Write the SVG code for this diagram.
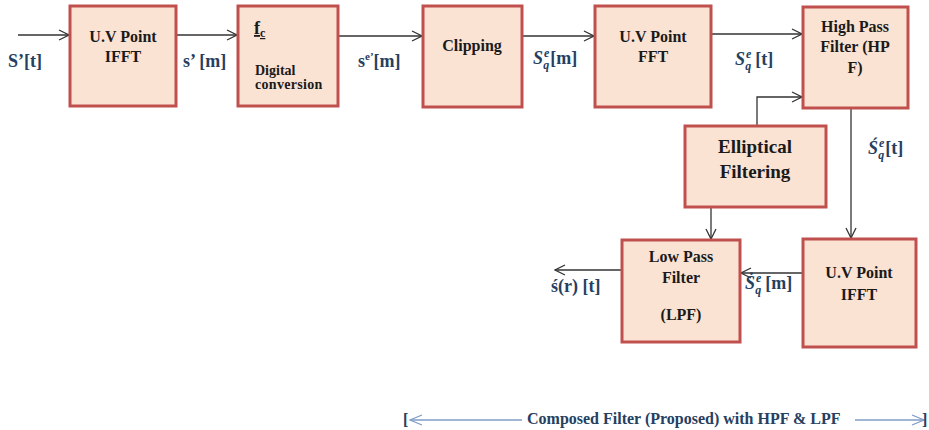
<svg xmlns="http://www.w3.org/2000/svg" width="929" height="430" viewBox="0 0 929 430">
<style>
.box{fill:#FBE3D4;stroke:#C0504D;stroke-width:3}
.bt{font-family:"Liberation Serif","Times New Roman","DejaVu Serif",serif;font-weight:bold;font-size:16px;fill:#1a1a1a;text-anchor:middle}
.st{text-anchor:start}
.big{font-size:19px}
.lb{font-family:"Liberation Serif","Times New Roman","DejaVu Serif",serif;font-weight:bold;font-size:18px;fill:#254061}
.cm{font-size:16px}
.con{fill:none;stroke:#333;stroke-width:1.3}
.blue{fill:none;stroke:#7F9CC6;stroke-width:1.3}
</style>
<defs>
<marker id="ah" viewBox="0 0 12 12" refX="11" refY="6" markerWidth="12" markerHeight="12" markerUnits="userSpaceOnUse" orient="auto">
<path d="M1,1 L11,6 L1,11" fill="none" stroke="#333" stroke-width="1.3"/>
</marker>
<marker id="ahb" viewBox="0 0 14 12" refX="13" refY="6" markerWidth="14" markerHeight="12" markerUnits="userSpaceOnUse" orient="auto">
<path d="M1,1 L13,6 L1,11" fill="none" stroke="#7F9CC6" stroke-width="1.3"/>
</marker>
</defs>

<g id="connectors">
<path class="con" d="M18,35 H69" marker-end="url(#ah)"/>
<path class="con" d="M177,35 H237" marker-end="url(#ah)"/>
<path class="con" d="M339,36 H422" marker-end="url(#ah)"/>
<path class="con" d="M523,36 H594" marker-end="url(#ah)"/>
<path class="con" d="M712,34 H802" marker-end="url(#ah)"/>
<path class="con" d="M757,125 V97 H802" marker-end="url(#ah)"/>
<path class="con" d="M851,109 V238" marker-end="url(#ah)"/>
<path class="con" d="M711,208 V239" marker-end="url(#ah)"/>
<path class="con" d="M802,273 H741" marker-end="url(#ah)"/>
<path class="con" d="M621,270 H555" marker-end="url(#ah)"/>
</g>

<g id="n_ifft1">
<rect class="box" x="70" y="6" width="106" height="100"/>
<text class="bt" x="123" y="42">U.V Point</text>
<text class="bt" x="123" y="62">IFFT</text>
</g>

<g id="n_digital">
<rect class="box" x="238" y="6" width="100" height="100"/>
<text class="bt st" x="254" y="34" style="font-size:18px;text-decoration:underline">f<tspan style="font-size:12px" dy="3">c</tspan></text>
<text class="bt st" x="255" y="75" style="font-size:14px">Digital</text>
<text class="bt st" x="255" y="89" style="font-size:14px;letter-spacing:0.3px">conversion</text>
</g>

<g id="n_clip">
<rect class="box" x="423" y="6" width="99" height="101"/>
<text class="bt" x="472" y="51">Clipping</text>
</g>

<g id="n_fft">
<rect class="box" x="595" y="6" width="116" height="101"/>
<text class="bt" x="653" y="42">U.V Point</text>
<text class="bt" x="653" y="62">FFT</text>
</g>

<g id="n_hpf">
<rect class="box" x="803" y="7" width="105" height="101"/>
<text class="bt" x="855" y="32">High Pass</text>
<text class="bt" x="855" y="52">Filter (HP</text>
<text class="bt" x="855" y="73">F)</text>
</g>

<g id="n_ellip">
<rect class="box" x="685" y="126" width="141" height="81"/>
<text class="bt big" x="755" y="153">Elliptical</text>
<text class="bt big" x="755" y="178">Filtering</text>
</g>

<g id="n_lpf">
<rect class="box" x="622" y="240" width="118" height="102"/>
<text class="bt" x="681" y="262">Low Pass</text>
<text class="bt" x="681" y="283">Filter</text>
<text class="bt" x="681" y="320">(LPF)</text>
</g>

<g id="n_ifft2">
<rect class="box" x="803" y="239" width="113" height="108"/>
<text class="bt" x="859" y="278">U.V Point</text>
<text class="bt" x="859" y="300">IFFT</text>
</g>

<g id="labels">
<text class="lb" x="8" y="67">S’[t]</text>
<text class="lb" x="183" y="67">s’ [m]</text>
<text class="lb" x="358" y="67">s<tspan style="font-size:11px" dy="-7">e’</tspan><tspan dy="7">[m]</tspan></text>
<text class="lb" x="533" y="64"><tspan font-style="italic">S</tspan><tspan style="font-size:12px;font-style:italic" dx="1" dy="-7">e</tspan><tspan style="font-size:12px;font-style:italic" dx="-6" dy="12">q</tspan><tspan dx="1" dy="-5">[m]</tspan></text>
<text class="lb" x="735" y="65"><tspan font-style="italic">S</tspan><tspan style="font-size:12px;font-style:italic" dx="1" dy="-7">e</tspan><tspan style="font-size:12px;font-style:italic" dx="-6" dy="12">q</tspan><tspan dx="4" dy="-5">[t]</tspan></text>
<text class="lb" x="868" y="154"><tspan font-style="italic">Ś</tspan><tspan style="font-size:12px;font-style:italic" dx="1" dy="-7">e</tspan><tspan style="font-size:12px;font-style:italic" dx="-6" dy="12">q</tspan><tspan dx="1" dy="-5">[t]</tspan></text>
<text class="lb" x="745" y="289"><tspan font-style="italic">Ṡ</tspan><tspan style="font-size:12px;font-style:italic" dx="1" dy="-7">e</tspan><tspan style="font-size:12px;font-style:italic" dx="-6" dy="12">q</tspan><tspan dx="4" dy="-5">[m]</tspan></text>
<text class="lb" x="551" y="292">ś(r) [t]</text>
</g>

<g id="composed">
<text class="lb cm" x="403" y="425">[</text>
<path class="blue" d="M522,420 H410" marker-end="url(#ahb)"/>
<text class="lb cm" x="527" y="424">Composed Filter (Proposed) with HPF &amp; LPF</text>
<path class="blue" d="M855,420 H924" marker-end="url(#ahb)"/>
<text class="lb cm" x="922" y="425">]</text>
</g>
</svg>
